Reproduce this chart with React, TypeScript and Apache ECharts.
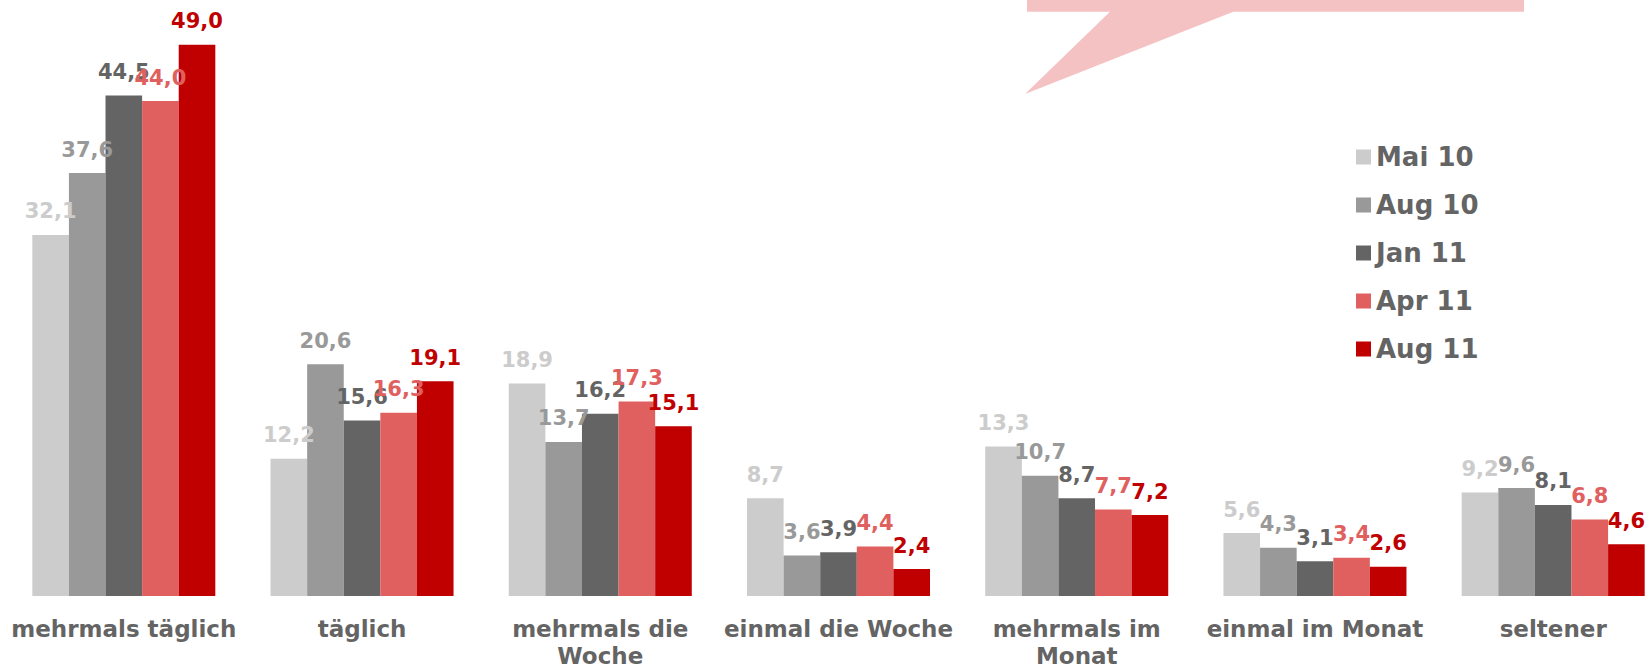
import React, { useEffect, useRef } from "react";
import * as echarts from "echarts";

const categories = [
  "mehrmals täglich",
  "täglich",
  "mehrmals die\nWoche",
  "einmal die Woche",
  "mehrmals im\nMonat",
  "einmal im Monat",
  "seltener",
];

const seriesNames = ["Mai 10", "Aug 10", "Jan 11", "Apr 11", "Aug 11"];
const seriesColors = ["#CCCCCC", "#999999", "#646464", "#E06060", "#C00000"];

const mai10 = [32.1, 12.2, 18.9, 8.7, 13.3, 5.6, 9.2];
const aug10 = [37.6, 20.6, 13.7, 3.6, 10.7, 4.3, 9.6];
const jan11 = [44.5, 15.6, 16.2, 3.9, 8.7, 3.1, 8.1];
const apr11 = [44.0, 16.3, 17.3, 4.4, 7.7, 3.4, 6.8];
const aug11 = [49.0, 19.1, 15.1, 2.4, 7.2, 2.6, 4.6];

const seriesValues = [mai10, aug10, jan11, apr11, aug11];

const FONT = "'DejaVu Sans', Verdana, sans-serif";

export default function App() {
  const ref = useRef<HTMLDivElement>(null);

  useEffect(() => {
    if (!ref.current) return;
    document.body.style.margin = "0";
    document.body.style.overflow = "hidden";
    const chart = echarts.init(ref.current, null, { renderer: "svg" });
    chart.setOption({
      animation: false,
      backgroundColor: "#ffffff",
      grid: {
        left: 4.7,
        width: 1667.6,
        top: 33.5,
        bottom: 71,
        containLabel: false,
        outerBoundsMode: "none",
      },
      legend: {
        orient: "vertical",
        left: 1356,
        top: 142,
        padding: 0,
        itemWidth: 15,
        itemHeight: 15,
        itemGap: 18,
        icon: "rect",
        data: seriesNames,
        textStyle: {
          fontFamily: FONT,
          fontWeight: "bold",
          fontSize: 26,
          lineHeight: 30,
          color: "#646464",
        },
      },
      xAxis: {
        type: "category",
        data: categories,
        axisLine: { show: false },
        axisTick: { show: false },
        axisLabel: {
          interval: 0,
          margin: 19,
          fontFamily: FONT,
          fontWeight: "bold",
          fontSize: 23,
          lineHeight: 27,
          color: "#646464",
        },
      },
      yAxis: {
        type: "value",
        min: 0,
        max: 50,
        show: false,
        splitLine: { show: false },
      },
      graphic: [
        {
          type: "polygon",
          shape: {
            points: [
              [1027, 0],
              [1524, 0],
              [1524, 11.7],
              [1233.3, 11.7],
              [1025, 94],
              [1110, 11.7],
              [1027, 11.7],
            ],
          },
          style: { fill: "#F4C2C2" },
          z: 0,
        },
      ],
      series: seriesNames.map((name, i) => ({
        name,
        type: "bar",
        data: seriesValues[i],
        barWidth: 36.6,
        barGap: "0%",
        itemStyle: { color: seriesColors[i] },
        label: {
          show: true,
          position: "top",
          distance: 13,
          fontFamily: FONT,
          fontWeight: "bold",
          fontSize: 21,
          lineHeight: 21,
          color: seriesColors[i],
          formatter: (p: any) => Number(p.value).toFixed(1).replace(".", ","),
        },
      })),
    });
    return () => chart.dispose();
  }, []);

  return (
    <div
      ref={ref}
      style={{ position: "fixed", left: 0, top: 0, width: 1652, height: 667 }}
    />
  );
}
